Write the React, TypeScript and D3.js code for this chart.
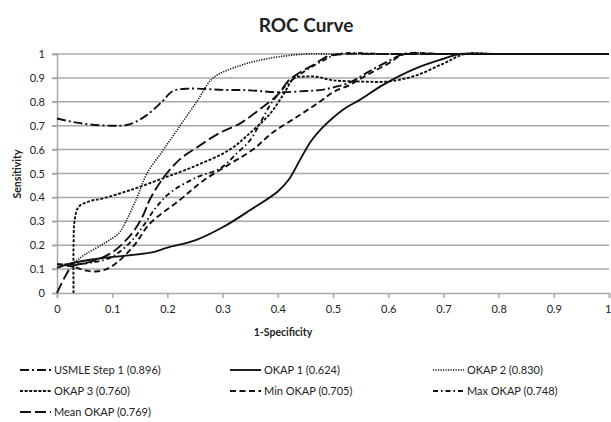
import { useEffect, useRef } from 'react'
import * as d3 from 'd3'

// ROC 곡선 데이터 (1-특이도, 민감도) — 그림에서 읽은 값
const usmleX = [0, 0.03, 0.06, 0.1, 0.13, 0.16, 0.19, 0.21, 0.24, 0.3, 0.35, 0.4, 0.45, 0.48, 0.5, 0.53, 0.56, 0.6, 0.63, 0.7, 0.8, 0.9, 1]
const usmleY = [0.73, 0.715, 0.705, 0.7, 0.705, 0.74, 0.8, 0.845, 0.855, 0.85, 0.848, 0.84, 0.845, 0.85, 0.86, 0.88, 0.92, 0.97, 1, 1, 1, 1, 1]

const okap1X = [0, 0.027, 0.082, 0.172, 0.2, 0.25, 0.3, 0.35, 0.4, 0.42, 0.44, 0.46, 0.48, 0.52, 0.55, 0.59, 0.65, 0.7, 0.73, 0.8, 1]
const okap1Y = [0.105, 0.125, 0.146, 0.17, 0.19, 0.22, 0.275, 0.347, 0.425, 0.475, 0.556, 0.635, 0.69, 0.77, 0.81, 0.87, 0.94, 0.98, 1, 1, 1]

const okap2X = [0, 0.027, 0.05, 0.087, 0.112, 0.125, 0.145, 0.163, 0.193, 0.223, 0.253, 0.283, 0.33, 0.38, 0.45, 0.5, 1]
const okap2Y = [0.12, 0.125, 0.16, 0.21, 0.25, 0.3, 0.4, 0.5, 0.6, 0.7, 0.8, 0.9, 0.95, 0.98, 1, 1, 1]

const okap3X = [0.03, 0.03, 0.032, 0.039, 0.06, 0.082, 0.132, 0.192, 0.254, 0.313, 0.35, 0.386, 0.41, 0.43, 0.445, 0.47, 0.5, 0.55, 0.6, 0.65, 0.7, 0.74, 0.8, 1]
const okap3Y = [0, 0.2, 0.305, 0.36, 0.385, 0.395, 0.43, 0.48, 0.535, 0.6, 0.67, 0.75, 0.83, 0.9, 0.905, 0.905, 0.89, 0.885, 0.885, 0.91, 0.96, 1, 1, 1]

const minX = [0, 0.03, 0.05, 0.07, 0.09, 0.11, 0.14, 0.168, 0.223, 0.265, 0.313, 0.355, 0.39, 0.44, 0.476, 0.5, 0.53, 0.56, 0.6, 0.63, 0.7, 1]
const minY = [0.12, 0.11, 0.095, 0.09, 0.1, 0.13, 0.2, 0.29, 0.39, 0.47, 0.54, 0.6, 0.67, 0.745, 0.8, 0.84, 0.87, 0.91, 0.96, 1, 1, 1]

const maxX = [0, 0.03, 0.07, 0.095, 0.112, 0.136, 0.156, 0.18, 0.205, 0.254, 0.295, 0.326, 0.35, 0.37, 0.39, 0.42, 0.45, 0.48, 0.51, 0.6, 1]
const maxY = [0.12, 0.12, 0.13, 0.146, 0.17, 0.22, 0.28, 0.36, 0.42, 0.485, 0.52, 0.585, 0.64, 0.72, 0.8, 0.88, 0.93, 0.97, 1, 1, 1]

const meanX = [0, 0.015, 0.027, 0.06, 0.1, 0.136, 0.155, 0.168, 0.192, 0.223, 0.254, 0.295, 0.332, 0.368, 0.4, 0.42, 0.445, 0.465, 0.49, 0.52, 0.6, 1]
const meanY = [0, 0.07, 0.11, 0.13, 0.17, 0.25, 0.32, 0.39, 0.48, 0.56, 0.61, 0.67, 0.71, 0.77, 0.83, 0.89, 0.93, 0.955, 0.99, 1, 1, 1]

const seriesNames = ['USMLE Step 1 (0.896)', 'OKAP 1 (0.624)', 'OKAP 2 (0.830)', 'OKAP 3 (0.760)', 'Min OKAP (0.705)', 'Max OKAP (0.748)', 'Mean OKAP (0.769)']
const seriesX = [usmleX, okap1X, okap2X, okap3X, minX, maxX, meanX]
const seriesY = [usmleY, okap1Y, okap2Y, okap3Y, minY, maxY, meanY]
const dashes = ['9,3,2,3', 'none', '1.2,1.3', '3,1.6', '6,3.5', '5,3,1.5,3', '11,4']

const xTicks = [0, 0.1, 0.2, 0.3, 0.4, 0.5, 0.6, 0.7, 0.8, 0.9, 1]
const yTicks = [0, 0.1, 0.2, 0.3, 0.4, 0.5, 0.6, 0.7, 0.8, 0.9, 1]

const W = 611
const H = 422
const FONT = 'Lato, "DejaVu Sans", sans-serif'

export default function App() {
  const svgRef = useRef<SVGSVGElement>(null)

  useEffect(() => {
    if (!svgRef.current) return
    const svg = d3.select(svgRef.current)
    svg.selectAll('*').remove()

    const margin = { top: 54, right: 2, bottom: 129, left: 57 }
    const x = d3.scaleLinear().domain([0, 1]).range([margin.left, W - margin.right])
    const y = d3.scaleLinear().domain([0, 1]).range([H - margin.bottom, margin.top])

    // 제목
    svg.append('text')
      .attr('x', 306).attr('y', 32)
      .attr('text-anchor', 'middle')
      .style('font-family', FONT).style('font-size', '19px').style('font-weight', 'bold')
      .style('fill', '#222')
      .text('ROC Curve')

    // 격자선
    svg.append('g')
      .selectAll('line')
      .data(yTicks.filter(d => d > 0))
      .enter()
      .append('line')
      .attr('x1', x(0) - 5).attr('x2', x(1))
      .attr('y1', d => y(d)).attr('y2', d => y(d))
      .attr('stroke', '#a8a8a8').attr('stroke-width', 1.5)

    // 축
    const yAxis = svg.append('g')
      .attr('transform', `translate(${x(0)},0)`)
      .call(d3.axisLeft(y).tickValues(yTicks).tickSize(5).tickPadding(7).tickFormat(d => d3.format('')(+d)))
    const xAxis = svg.append('g')
      .attr('transform', `translate(0,${y(0)})`)
      .call(d3.axisBottom(x).tickValues(xTicks).tickSize(5).tickPadding(7).tickFormat(d => d3.format('')(+d)))
    for (const ax of [yAxis, xAxis]) {
      ax.select('.domain').attr('stroke', '#a8a8a8').attr('stroke-width', 1.5)
      ax.selectAll('.tick line').attr('stroke', '#a8a8a8').attr('stroke-width', 1.5)
      ax.selectAll('.tick text')
        .style('font-family', FONT).style('font-size', '11px').style('fill', '#222')
    }
    // 오른쪽 끝 눈금 글자가 잘리지 않도록
    xAxis.selectAll<SVGTextElement, number>('.tick text')
      .filter(d => d === 1)
      .attr('text-anchor', 'end')
      .attr('dx', 2)

    // 축 제목
    svg.append('text')
      .attr('x', 283).attr('y', 336)
      .attr('text-anchor', 'middle')
      .style('font-family', FONT).style('font-size', '10.5px').style('font-weight', 'bold').style('fill', '#222')
      .text('1-Specificity')
    svg.append('text')
      .attr('transform', `translate(21,174) rotate(-90)`)
      .attr('text-anchor', 'middle')
      .style('font-family', FONT).style('font-size', '10.5px').style('font-weight', 'bold').style('fill', '#222')
      .text('Sensitivity')

    // 곡선
    const line = d3.line<[number, number]>()
      .x(d => x(d[0]))
      .y(d => y(d[1]))
      .curve(d3.curveCatmullRom.alpha(0.5))

    seriesNames.forEach((_, i) => {
      const pts = seriesX[i].map((v, j) => [v, seriesY[i][j]] as [number, number])
      svg.append('path')
        .attr('d', line(pts))
        .attr('fill', 'none')
        .attr('stroke', '#111')
        .attr('stroke-width', i === 2 ? 1.6 : 1.9)
        .attr('stroke-dasharray', dashes[i])
    })

    // 범례
    const colX = [20, 230, 433]
    const rowY = [370, 391, 412]
    const lg = svg.append('g')
    seriesNames.forEach((name, i) => {
      const cx = colX[i % 3]
      const cy = rowY[Math.floor(i / 3)]
      lg.append('line')
        .attr('x1', cx).attr('x2', cx + 31)
        .attr('y1', cy).attr('y2', cy)
        .attr('stroke', '#111')
        .attr('stroke-width', i === 2 ? 1.6 : 1.9)
        .attr('stroke-dasharray', dashes[i])
      lg.append('text')
        .attr('x', cx + 34).attr('y', cy + 4)
        .style('font-family', FONT).style('font-size', '11px').style('fill', '#222')
        .text(name)
    })
  }, [])

  return (
    <svg
      ref={svgRef}
      width={W}
      height={H}
      style={{ position: 'absolute', left: 0, top: 0, background: '#fff' }}
    />
  )
}
